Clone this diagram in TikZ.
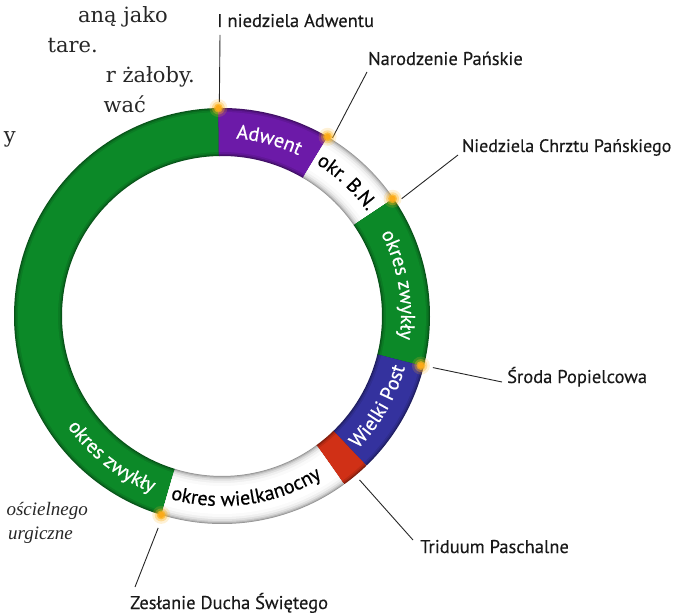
\documentclass[tikz,border=0pt]{standalone}
\usepackage{fontspec}
\setmainfont{DejaVu Serif}
\newfontfamily\labfont{PT Sans}[FakeBold=0.3]
\newfontfamily\ringfont{PT Sans}[FakeBold=0.6]
\newfontfamily\parafont{DejaVu Serif}
\newfontfamily\itfont{Liberation Serif}
\usetikzlibrary{calc,decorations.text}
\definecolor{gz}{RGB}{12,137,40}
\definecolor{pu}{RGB}{108,26,168}
\definecolor{bl}{RGB}{52,50,158}
\definecolor{rd}{RGB}{208,48,22}
\definecolor{glowc}{RGB}{252,178,28}
\newcommand\ringarc[4]{\draw[line width=#3pt,#4] ($(C)+(#1:184pt)$) arc[start angle=#1,end angle=#2,radius=184pt];}
\newcommand\colseg[3]{%
 \ringarc{#1}{#2}{48}{#3!60!black}
 \ringarc{#1}{#2}{46}{#3!75!black}
 \ringarc{#1}{#2}{43.5}{#3!90!black}
 \ringarc{#1}{#2}{40}{#3}}
\newcommand\wseg[2]{%
 \ringarc{#1}{#2}{48}{black!42}
 \ringarc{#1}{#2}{46.5}{black!30}
 \ringarc{#1}{#2}{44.5}{black!20}
 \ringarc{#1}{#2}{42}{black!12}
 \ringarc{#1}{#2}{38.5}{black!6}
 \ringarc{#1}{#2}{34}{black!2}
 \ringarc{#1}{#2}{28}{white}}
\newcommand\ringtext[5]{%
 \path[decorate,decoration={text along path,text align=center,text color=#4,
   text={|\ringfont\fontsize{20}{20}\selectfont|#5}}]
   ($(C)+(#1:#3pt)$) arc[start angle=#1,end angle=#2,radius=#3pt];}
\newcommand\glowat[1]{%
 \fill[glowc,opacity=0.18] (#1) circle (9pt);
 \fill[glowc,opacity=0.35] (#1) circle (6.5pt);
 \fill[glowc,opacity=0.7] (#1) circle (4.5pt);
 \fill[glowc!85!orange] (#1) circle (3pt);}
\tikzset{
 lab/.style={font=\labfont\fontsize{18.5}{20}\selectfont,inner sep=0pt,anchor=base west,text=black!90},
 para/.style={font=\parafont\fontsize{21}{24}\selectfont,inner sep=0pt,anchor=base east,text=black!85},
 itpara/.style={font=\itfont\itshape\fontsize{19}{22}\selectfont,inner sep=0pt,anchor=base east,text=black!85},
 leader/.style={line width=0.9pt,black!85}
}
\begin{document}
\begin{tikzpicture}[x=1pt,y=1pt]
\useasboundingbox (0,0) rectangle (699,614);
\coordinate (C) at (222,298);
% ring segments
\colseg{91}{253}{gz}
\colseg{59.5}{91}{pu}
\wseg{34.5}{59.5}
\colseg{-14}{34.5}{gz}
\colseg{-46}{-14}{bl}
\colseg{-54}{-46}{rd}
\wseg{-107}{-54}
% ring texts
\ringtext{91}{59}{178}{white}{Adwent}
\ringtext{62}{32}{179}{black}{okr. B.N.}
\ringtext{34}{-14}{179}{white}{okres zwykły}
\ringtext{-48}{-12}{190}{white}{Wielki Post}
\ringtext{-108}{-56}{190}{black}{okres wielkanocny}
\ringtext{205}{259}{190}{white}{okres zwykły}
% boundary points
\coordinate (d1) at ($(C)+(91:208pt)$);
\coordinate (d2) at ($(C)+(59.5:208pt)$);
\coordinate (d3) at ($(C)+(34.5:207pt)$);
\coordinate (d4) at ($(C)+(-14:205pt)$);
\coordinate (d5) at ($(C)+(-50:214pt)$);
\coordinate (d6) at ($(C)+(-107:208pt)$);
% labels
\node[lab] (l1) at (217,587) {I niedziela Adwentu};
\node[lab] (l2) at (368,549) {Narodzenie Pańskie};
\node[lab,font=\labfont\fontsize{18}{20}\selectfont] (l3) at (462,462) {Niedziela Chrztu Pańskiego};
\node[lab] (l4) at (507,231) {Środa Popielcowa};
\node[lab] (l5) at (420,61) {Triduum Paschalne};
\node[lab] (l6) at (130,5) {Zesłanie Ducha Świętego};
% leader ends
\coordinate (e1) at (220,579);
\coordinate (e2) at (367,542);
\coordinate (e3) at (458,459);
\coordinate (e4) at (502,232);
\coordinate (e5) at (413,74);
\coordinate (e6) at (135,27);
\draw[leader] ($(d1)+(1,6)$) -- (e1);
\draw[leader] ($(d2)+(5,-1)$) -- (e2);
\draw[leader] ($(d3)+(9,0)$) -- (e3);
\draw[leader] ($(d4)+(12,-2)$) -- (e4);
\draw[leader] (d5) -- (e5);
\draw[leader] ($(d6)+(-3,-13)$) -- (e6);
\glowat{d1}
\glowat{d2}
\glowat{d3}
\glowat{d4}
\glowat{d6}
% cropped paragraph text
\node[para] (p1) at (168,591) {aną jako};
\node[para] (p2) at (98,561) {tare.};
\node[para] (p3) at (195,531) {r żałoby.};
\node[para] (p4) at (146,501) {wać};
\node[para] (p5) at (16,471) {y};
\node[itpara] (q1) at (88,99) {ościelnego};
\node[itpara] (q2) at (73,75) {urgiczne};
\end{tikzpicture}
\end{document}
